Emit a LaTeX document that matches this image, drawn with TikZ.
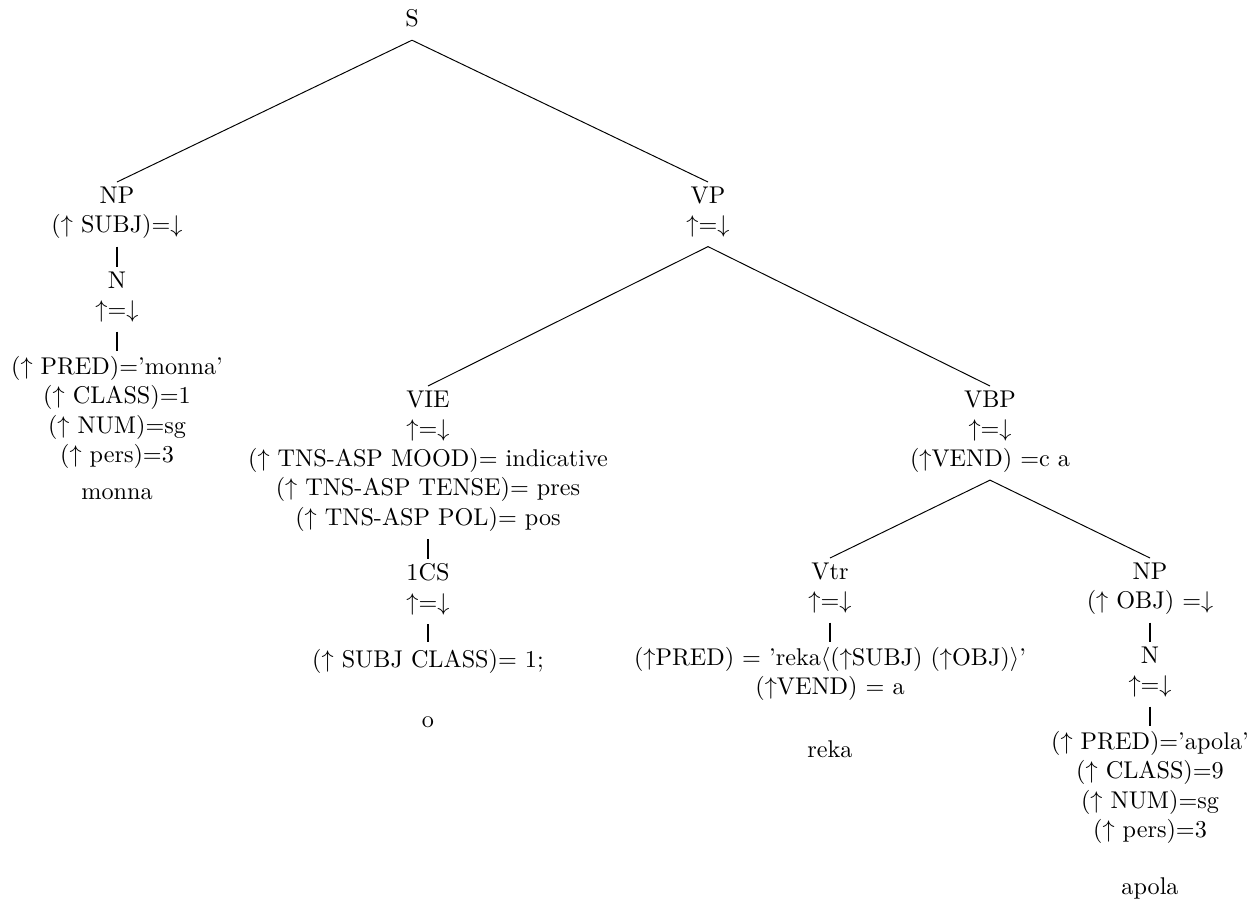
\documentclass[tikz,border=0pt]{standalone}
\begin{document}
\begin{tikzpicture}[x=0.41322pt,y=-0.41322pt,
  tn/.style={anchor=north,align=center,inner xsep=1pt,inner ysep=1.8pt,font=\fontsize{10}{12.2}\selectfont,
    execute at begin node=\strut,execute at end node=\strut},
  br/.style={line width=0.4pt},
  un/.style={line width=0.8pt}]
\useasboundingbox (0,0) rectangle (1258,903);
\def\U{$\uparrow$}\def\D{$\downarrow$}
\node[tn] (s) at (412,1) {S};
\node[tn] (np1) at (117,182) {NP\\(\U{} SUBJ)=\D};
\node[tn] (n1) at (117,267) {N\\\U=\D};
\node[tn] (lex1) at (117,351) {(\U{} PRED)='monna'\\(\U{} CLASS)=1\\(\U{} NUM)=sg\\(\U{} pers)=3};
\node[tn] (w1) at (117,474) {monna};
\node[tn] (vp) at (708,182) {VP\\\U=\D};
\node[tn] (vie) at (428,386) {VIE\\\U=\D\\(\U{} TNS-ASP MOOD)= indicative\\(\U{} TNS-ASP TENSE)= pres\\(\U{} TNS-ASP POL)= pos};
\node[tn] (cs) at (428,559) {1CS\\\U=\D};
\node[tn] (lex2) at (428,642) {(\U{} SUBJ CLASS)= 1;};
\node[tn] (w2) at (428,702) {o};
\node[tn] (vbp) at (990,386) {VBP\\\U=\D\\(\U VEND) =c a};
\node[tn] (vtr) at (830,558) {Vtr\\\U=\D};
\node[tn] (lex3) at (830,642) {(\U PRED) = 'reka$\langle$(\U SUBJ) (\U OBJ)$\rangle$'\\(\U VEND) = a};
\node[tn] (w3) at (830,732) {reka};
\node[tn] (np2) at (1150,558) {NP\\(\U{} OBJ) =\D};
\node[tn] (n2) at (1150,642) {N\\\U=\D};
\node[tn] (lex4) at (1150,726) {(\U{} PRED)='apola'\\(\U{} CLASS)=9\\(\U{} NUM)=sg\\(\U{} pers)=3};
\node[tn] (w4) at (1150,869) {apola};
\draw[br] (s.south) -- (np1.north);
\draw[br] (s.south) -- (vp.north);
\draw[un] (np1.south) -- (n1.north);
\draw[un] (n1.south) -- (lex1.north);
\draw[br] (vp.south) -- (vie.north);
\draw[br] (vp.south) -- (vbp.north);
\draw[un] (vie.south) -- (cs.north);
\draw[un] (cs.south) -- (lex2.north);
\draw[br] (vbp.south) -- (vtr.north);
\draw[br] (vbp.south) -- (np2.north);
\draw[un] (vtr.south) -- (lex3.north);
\draw[un] (np2.south) -- (n2.north);
\draw[un] (n2.south) -- (lex4.north);
\end{tikzpicture}
\end{document}
